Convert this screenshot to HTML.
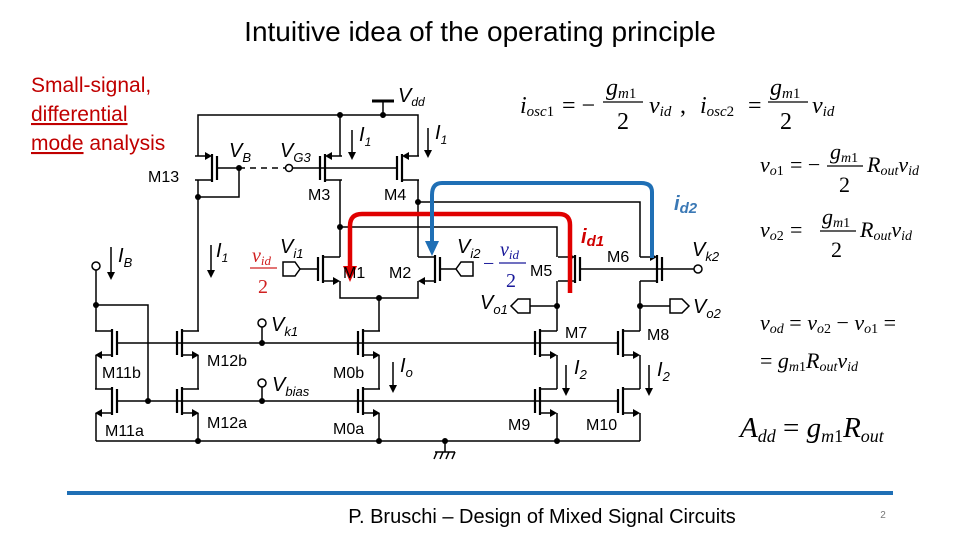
<!DOCTYPE html>
<html><head><meta charset="utf-8"><style>
html,body{margin:0;padding:0;background:#fff}
svg{display:block}
.s{font-family:"Liberation Sans",sans-serif}
.m{font-family:"Liberation Serif",serif;font-style:italic}
.r{font-family:"Liberation Serif",serif}
</style></head><body>
<svg width="960" height="540" viewBox="0 0 960 540" xmlns="http://www.w3.org/2000/svg">
<defs>
<g id="n" stroke="#000" stroke-width="1.5" fill="none">
<line x1="0" y1="-12" x2="0" y2="12" stroke-width="2.2"/>
<line x1="5" y1="-14" x2="5" y2="14" stroke-width="2.2"/>
<polyline points="5,-12 22,-12"/>
<polyline points="5,12 16,12"/>
<polygon points="22,12 15,8 15,16" fill="#000" stroke="none"/>
</g>
<g id="p" stroke="#000" stroke-width="1.5" fill="none">
<line x1="0" y1="-12" x2="0" y2="12" stroke-width="2.2"/>
<line x1="5" y1="-14" x2="5" y2="14" stroke-width="2.2"/>
<polyline points="12,-12 22,-12"/>
<polyline points="5,12 22,12"/>
<polygon points="5,-12 12,-16 12,-8" fill="#000" stroke="none"/>
</g>
</defs>

<text x="480" y="41" text-anchor="middle" class="s" font-size="28">Intuitive idea of the operating principle</text>
<g class="s" font-size="21" fill="#c00000">
<text x="31" y="92">Small-signal,</text>
<text x="31" y="121" text-decoration="underline">differential</text>
<text x="31" y="150"><tspan text-decoration="underline">mode</tspan> analysis</text>
</g>

<use href="#p" transform="translate(217,168) scale(-1,1)"/>
<use href="#p" transform="translate(320,168)"/>
<use href="#p" transform="translate(397,168)"/>
<use href="#n" transform="translate(318,269)"/>
<use href="#n" transform="translate(440,269) scale(-1,1)"/>
<use href="#p" transform="translate(580,269) scale(-1,1)"/>
<use href="#p" transform="translate(662,269) scale(-1,1)"/>
<use href="#n" transform="translate(535,343)"/>
<use href="#n" transform="translate(618,343)"/>
<use href="#n" transform="translate(535,401)"/>
<use href="#n" transform="translate(618,401)"/>
<use href="#n" transform="translate(117,343) scale(-1,1)"/>
<use href="#n" transform="translate(117,401) scale(-1,1)"/>
<use href="#n" transform="translate(177,343)"/>
<use href="#n" transform="translate(177,401)"/>
<use href="#n" transform="translate(358,343)"/>
<use href="#n" transform="translate(358,401)"/>

<g stroke="#000" stroke-width="1.5" fill="none">
<polyline points="198,156 198,115 418,115 418,156"/>
<line x1="340" y1="115" x2="340" y2="156"/>
<line x1="383" y1="115" x2="383" y2="101"/>
<line x1="372" y1="101" x2="394" y2="101" stroke-width="3"/>
<polyline points="198,180 198,331"/>
<polyline points="198,197 239,197 239,168 217,168"/>
<line x1="239" y1="168" x2="287" y2="168" stroke-dasharray="6,5"/>
<line x1="292" y1="168" x2="397" y2="168"/>
<line x1="340" y1="180" x2="340" y2="257"/>
<line x1="418" y1="180" x2="418" y2="257"/>
<polyline points="340,227 557,227 557,257"/>
<polyline points="418,202 640,202 640,257"/>
<polyline points="340,281 340,298 418,298 418,281"/>
<line x1="379" y1="298" x2="379" y2="331"/>
<line x1="379" y1="355" x2="379" y2="389"/>
<line x1="379" y1="413" x2="379" y2="441"/>
<line x1="300" y1="269" x2="318" y2="269"/>
<line x1="440" y1="269" x2="456" y2="269"/>
<polygon points="283,262 295,262 300,269 295,276 283,276"/>
<polygon points="473,262 461,262 456,269 461,276 473,276"/>
<line x1="580" y1="269" x2="662" y2="269"/>
<line x1="662" y1="269" x2="694" y2="269"/>
<line x1="557" y1="281" x2="557" y2="331"/>
<line x1="640" y1="281" x2="640" y2="331"/>
<line x1="557" y1="355" x2="557" y2="389"/>
<line x1="640" y1="355" x2="640" y2="389"/>
<line x1="557" y1="413" x2="557" y2="441"/>
<line x1="640" y1="413" x2="640" y2="441"/>
<line x1="530" y1="306" x2="557" y2="306"/>
<polygon points="530,299 518,299 511,306 518,313 530,313"/>
<line x1="640" y1="306" x2="670" y2="306"/>
<polygon points="670,299 682,299 689,306 682,313 670,313"/>
<line x1="198" y1="355" x2="198" y2="389"/>
<line x1="198" y1="413" x2="198" y2="441"/>
<line x1="96" y1="355" x2="96" y2="389"/>
<line x1="96" y1="413" x2="96" y2="441"/>
<polyline points="96,270 96,331"/>
<polyline points="96,305 148,305 148,401"/>
<line x1="117" y1="343" x2="618" y2="343"/>
<line x1="117" y1="401" x2="618" y2="401"/>
<line x1="262" y1="343" x2="262" y2="327"/>
<line x1="262" y1="401" x2="262" y2="387"/>
<line x1="96" y1="441" x2="640" y2="441"/>
<line x1="445" y1="441" x2="445" y2="452"/>
<line x1="435" y1="452" x2="455" y2="452"/>
<line x1="437" y1="452" x2="434" y2="459"/><line x1="443" y1="452" x2="440" y2="459"/><line x1="449" y1="452" x2="446" y2="459"/><line x1="455" y1="452" x2="452" y2="459"/>
<circle cx="289" cy="168" r="3.5" fill="#fff"/>
<circle cx="96" cy="266" r="4" fill="#fff"/>
<circle cx="262" cy="323" r="4" fill="#fff"/>
<circle cx="262" cy="383" r="4" fill="#fff"/>
<circle cx="698" cy="269" r="4" fill="#fff"/>
<line x1="352" y1="130" x2="352" y2="152"/>
<line x1="428" y1="128" x2="428" y2="150"/>
<line x1="211" y1="245" x2="211" y2="270"/>
<line x1="111" y1="247" x2="111" y2="272"/>
<line x1="393" y1="362" x2="393" y2="385"/>
<line x1="566" y1="365" x2="566" y2="388"/>
<line x1="649" y1="365" x2="649" y2="388"/>
</g>
<g fill="#000">
<polygon points="348,152 356,152 352,160"/>
<polygon points="424,150 432,150 428,158"/>
<polygon points="207,270 215,270 211,278"/>
<polygon points="107,272 115,272 111,280"/>
<polygon points="389,385 397,385 393,393"/>
<polygon points="562,388 570,388 566,396"/>
<polygon points="645,388 653,388 649,396"/>
<circle cx="198" cy="197" r="3"/><circle cx="239" cy="168" r="3"/>
<circle cx="340" cy="115" r="3"/><circle cx="383" cy="115" r="3"/>
<circle cx="340" cy="227" r="3"/><circle cx="418" cy="202" r="3"/>
<circle cx="379" cy="298" r="3"/>
<circle cx="557" cy="306" r="3"/><circle cx="640" cy="306" r="3"/>
<circle cx="96" cy="305" r="3"/><circle cx="148" cy="401" r="3"/>
<circle cx="262" cy="343" r="3"/><circle cx="262" cy="401" r="3"/>
<circle cx="198" cy="441" r="3"/><circle cx="379" cy="441" r="3"/>
<circle cx="557" cy="441" r="3"/><circle cx="445" cy="441" r="3"/>
</g>

<path d="M570,293 L570,225 Q570,214 559,214 L362,214 Q350,214 350,226 L350,268" stroke="#e00000" stroke-width="4.5" fill="none"/>
<polygon points="343,266 357,266 350,282" fill="#e00000"/>
<path d="M652,258 L652,192 Q652,183 641,183 L442,183 Q432,183 432,195 L432,243" stroke="#1f6fb5" stroke-width="4" fill="none"/>
<polygon points="425,241 439,241 432,256" fill="#1f6fb5"/>

<g class="s" font-size="16">
<text x="148" y="182">M13</text>
<text x="308" y="200">M3</text>
<text x="384" y="200">M4</text>
<text x="343" y="278">M1</text>
<text x="389" y="278">M2</text>
<text x="530" y="276">M5</text>
<text x="607" y="262">M6</text>
<text x="565" y="338">M7</text>
<text x="647" y="340">M8</text>
<text x="508" y="430">M9</text>
<text x="586" y="430">M10</text>
<text x="102" y="378">M11b</text>
<text x="105" y="436">M11a</text>
<text x="207" y="366">M12b</text>
<text x="207" y="428">M12a</text>
<text x="333" y="378">M0b</text>
<text x="333" y="434">M0a</text>
</g>
<g class="s" font-style="italic" font-size="20">
<text x="398" y="102">V<tspan font-size="12" dy="4">dd</tspan></text>
<text x="229" y="157">V<tspan font-size="13" dy="5">B</tspan></text>
<text x="280" y="157">V<tspan font-size="13" dy="5">G3</tspan></text>
<text x="359" y="141">I<tspan font-size="12" dy="5">1</tspan></text>
<text x="435" y="139">I<tspan font-size="12" dy="5">1</tspan></text>
<text x="216" y="257">I<tspan font-size="12" dy="5">1</tspan></text>
<text x="118" y="262">I<tspan font-size="13" dy="5">B</tspan></text>
<text x="280" y="253">V<tspan font-size="13" dy="5">i1</tspan></text>
<text x="457" y="253">V<tspan font-size="13" dy="5">i2</tspan></text>
<text x="271" y="331">V<tspan font-size="13" dy="5">k1</tspan></text>
<text x="272" y="391">V<tspan font-size="13" dy="5">bias</tspan></text>
<text x="400" y="372">I<tspan font-size="13" dy="5">o</tspan></text>
<text x="574" y="374">I<tspan font-size="13" dy="5">2</tspan></text>
<text x="657" y="376">I<tspan font-size="13" dy="5">2</tspan></text>
<text x="480" y="309">V<tspan font-size="13" dy="5">o1</tspan></text>
<text x="693" y="313">V<tspan font-size="13" dy="5">o2</tspan></text>
<text x="692" y="256">V<tspan font-size="13" dy="5">k2</tspan></text>
<text x="581" y="243" fill="#d00000" font-weight="bold">i<tspan font-size="15" dy="3">d1</tspan></text>
<text x="674" y="210" fill="#3a78b5" font-weight="bold">i<tspan font-size="15" dy="3">d2</tspan></text>
</g>
<g class="m" font-size="20">
<text x="252" y="262" fill="#d02020">v<tspan font-size="13" dy="3">id</tspan></text>
<line x1="250" y1="268" x2="277" y2="268" stroke="#d02020" stroke-width="1.2"/>
<text x="258" y="293" fill="#d02020" class="r" font-style="normal">2</text>
<text x="483" y="270" fill="#1a1a9a" class="r" font-style="normal">−</text>
<text x="500" y="256" fill="#1a1a9a">v<tspan font-size="13" dy="3">id</tspan></text>
<line x1="499" y1="263" x2="526" y2="263" stroke="#1a1a9a" stroke-width="1.2"/>
<text x="506" y="287" fill="#1a1a9a" class="r" font-style="normal">2</text>
</g>

<g class="m" font-size="24" fill="#000">
<text x="520" y="113">i<tspan font-size="15" dy="3">osc</tspan><tspan font-size="15" class="r" font-style="normal">1</tspan></text>
<text x="562" y="113" class="r" font-style="normal">= −</text>
<text x="606" y="95">g<tspan font-size="15" dy="3">m</tspan><tspan font-size="15" class="r" font-style="normal">1</tspan></text>
<line x1="603" y1="102" x2="643" y2="102" stroke="#000" stroke-width="1.2"/>
<text x="617" y="129" class="r" font-style="normal">2</text>
<text x="649" y="113">v<tspan font-size="15" dy="3">id</tspan></text>
<text x="680" y="113" class="r" font-style="normal">,</text>
<text x="700" y="113">i<tspan font-size="15" dy="3">osc</tspan><tspan font-size="15" class="r" font-style="normal">2</tspan></text>
<text x="748" y="113" class="r" font-style="normal">=</text>
<text x="770" y="95">g<tspan font-size="15" dy="3">m</tspan><tspan font-size="15" class="r" font-style="normal">1</tspan></text>
<line x1="768" y1="102" x2="808" y2="102" stroke="#000" stroke-width="1.2"/>
<text x="780" y="129" class="r" font-style="normal">2</text>
<text x="812" y="113">v<tspan font-size="15" dy="3">id</tspan></text>

<text x="760" y="172" font-size="22">v<tspan font-size="14" dy="3">o</tspan><tspan font-size="14" class="r" font-style="normal">1</tspan></text>
<text x="790" y="172" font-size="22" class="r" font-style="normal">= −</text>
<text x="830" y="159" font-size="22">g<tspan font-size="14" dy="3">m</tspan><tspan font-size="14" class="r" font-style="normal">1</tspan></text>
<line x1="827" y1="166" x2="863" y2="166" stroke="#000" stroke-width="1.2"/>
<text x="839" y="192" font-size="22" class="r" font-style="normal">2</text>
<text x="867" y="172" font-size="22">R<tspan font-size="14" dy="3">out</tspan><tspan dy="-3">v</tspan><tspan font-size="14" dy="3">id</tspan></text>

<text x="760" y="237" font-size="22">v<tspan font-size="14" dy="3">o</tspan><tspan font-size="14" class="r" font-style="normal">2</tspan></text>
<text x="790" y="237" font-size="22" class="r" font-style="normal">=</text>
<text x="822" y="224" font-size="22">g<tspan font-size="14" dy="3">m</tspan><tspan font-size="14" class="r" font-style="normal">1</tspan></text>
<line x1="820" y1="231" x2="856" y2="231" stroke="#000" stroke-width="1.2"/>
<text x="831" y="257" font-size="22" class="r" font-style="normal">2</text>
<text x="860" y="237" font-size="22">R<tspan font-size="14" dy="3">out</tspan><tspan dy="-3">v</tspan><tspan font-size="14" dy="3">id</tspan></text>

<text x="760" y="330" font-size="22">v<tspan font-size="14" dy="3">od</tspan><tspan dy="-3" class="r" font-style="normal"> = </tspan>v<tspan font-size="14" dy="3">o</tspan><tspan font-size="14" class="r" font-style="normal">2</tspan><tspan dy="-3" class="r" font-style="normal"> − </tspan>v<tspan font-size="14" dy="3">o</tspan><tspan font-size="14" class="r" font-style="normal">1</tspan><tspan dy="-3" class="r" font-style="normal"> =</tspan></text>
<text x="760" y="368" font-size="22"><tspan class="r" font-style="normal">= </tspan>g<tspan font-size="14" dy="3">m</tspan><tspan font-size="14" class="r" font-style="normal">1</tspan><tspan dy="-3">R</tspan><tspan font-size="14" dy="3">out</tspan><tspan dy="-3">v</tspan><tspan font-size="14" dy="3">id</tspan></text>

<text x="740" y="437" font-size="29">A<tspan font-size="18" dy="5">dd</tspan><tspan dy="-5" class="r" font-style="normal"> = </tspan>g<tspan font-size="18" dy="5">m</tspan><tspan font-size="18" class="r" font-style="normal">1</tspan><tspan dy="-5">R</tspan><tspan font-size="18" dy="5">out</tspan></text>
</g>

<rect x="67" y="491" width="826" height="4" fill="#1f6fb5"/>
<text x="542" y="523" text-anchor="middle" class="s" font-size="20">P. Bruschi – Design of Mixed Signal Circuits</text>
<text x="883" y="518" text-anchor="middle" class="s" font-size="10" fill="#777">2</text>
</svg>
</body></html>
